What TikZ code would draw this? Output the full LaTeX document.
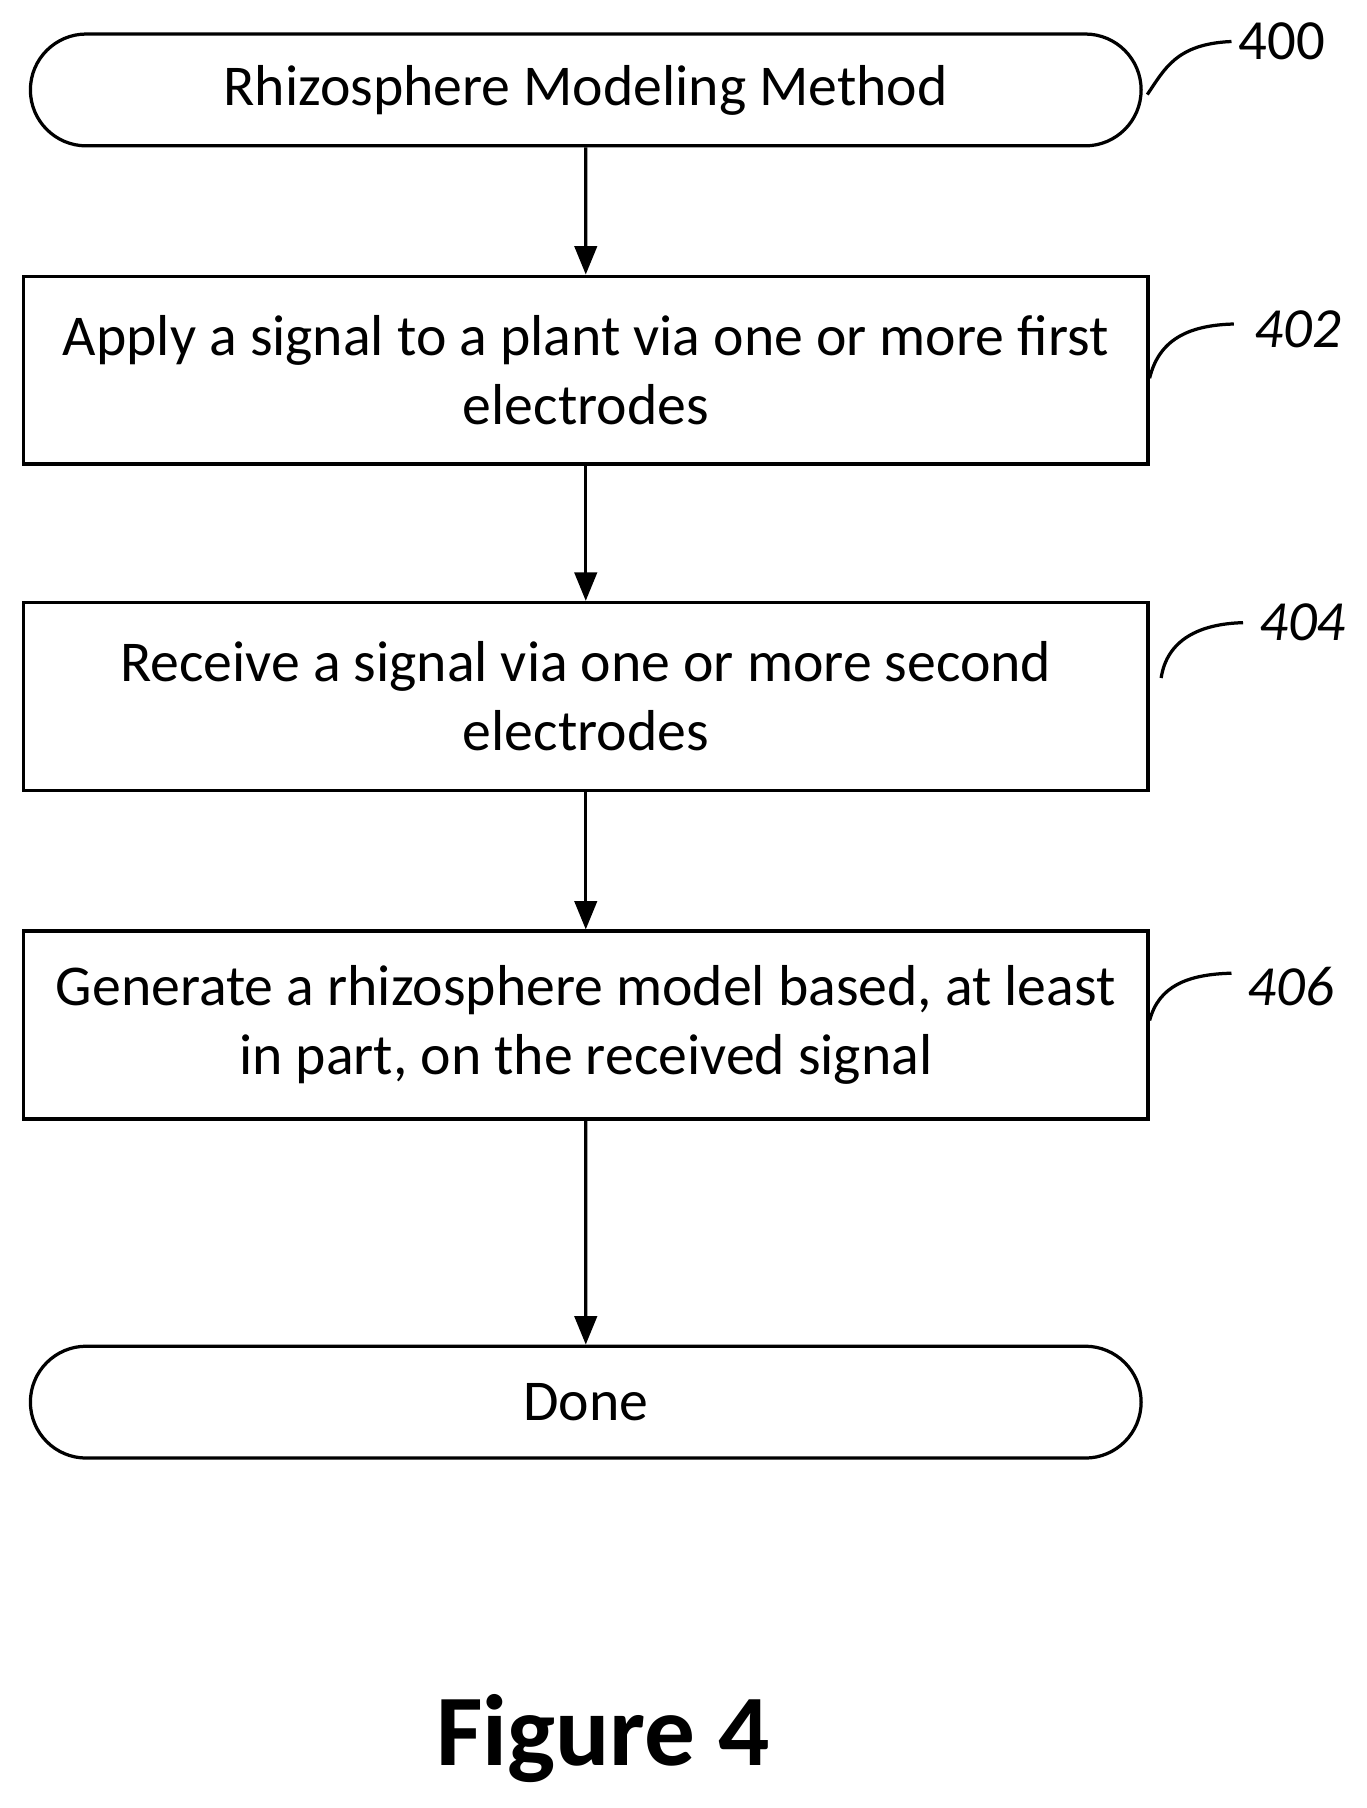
\documentclass[tikz,border=0pt]{standalone}
\usepackage{fontspec}
\setmainfont{Carlito}
\usetikzlibrary{arrows.meta,shapes.misc}
\begin{document}
\begin{tikzpicture}[x=0.02cm,y=-0.02cm,>={Triangle[length=14pt,width=11pt]}]
  \tikzset{
    stepbox/.style = {draw, line width=1.6pt, rectangle, minimum width=975*0.02cm, minimum height=163*0.02cm, align=center, font=\fontsize{28.5}{34}\selectfont},
    term/.style = {draw, line width=1.6pt, rounded rectangle, minimum width=975*0.02cm, minimum height=97*0.02cm, font=\fontsize{28.5}{34}\selectfont},
    flow/.style = {->, line width=1.6pt},
    lead/.style = {line width=1.6pt},
    refnum/.style = {font=\fontsize{28}{32}\selectfont, anchor=west}
  }
  \useasboundingbox (0,0) rectangle (1185,1568);

  \node[term] (start) at (508,78)  {Rhizosphere Modeling Method};
  \node[stepbox] (apply) at (508,321) {Apply a signal to a plant via one or more first\\electrodes};
  \node[stepbox] (recv)  at (508,604) {Receive a signal via one or more second\\electrodes};
  \node[stepbox] (gen)   at (508,889) {Generate a rhizosphere model based, at least\\in part, on the received signal};
  \node[term] (done)  at (508,1216) {Done};

  \draw[flow] (start) -- (apply);
  \draw[flow] (apply) -- (recv);
  \draw[flow] (recv) -- (gen);
  \draw[flow] (gen) -- (done);

  % reference numerals
  \node[refnum] (n400) at (1068,36) {400};
  \node[refnum] (n402) at (1082,286) {\itshape 402};
  \node[refnum] (n404) at (1086,540) {\itshape 404};
  \node[refnum] (n406) at (1076,856) {\itshape 406};
  \draw[lead] (995,82) .. controls (1010,60) and (1020,38) .. (n400.west);
  \draw[lead] (997,328) .. controls (1005,295) and (1030,282) .. (1070,281);
  \draw[lead] (1007,588) .. controls (1012,555) and (1040,541) .. (1078,540);
  \draw[lead] (997,885) .. controls (1005,855) and (1030,845) .. (1068,844);

  \node[font=\fontsize{50}{54}\selectfont\bfseries] (fig) at (523,1508) {Figure 4};
\end{tikzpicture}
\end{document}
